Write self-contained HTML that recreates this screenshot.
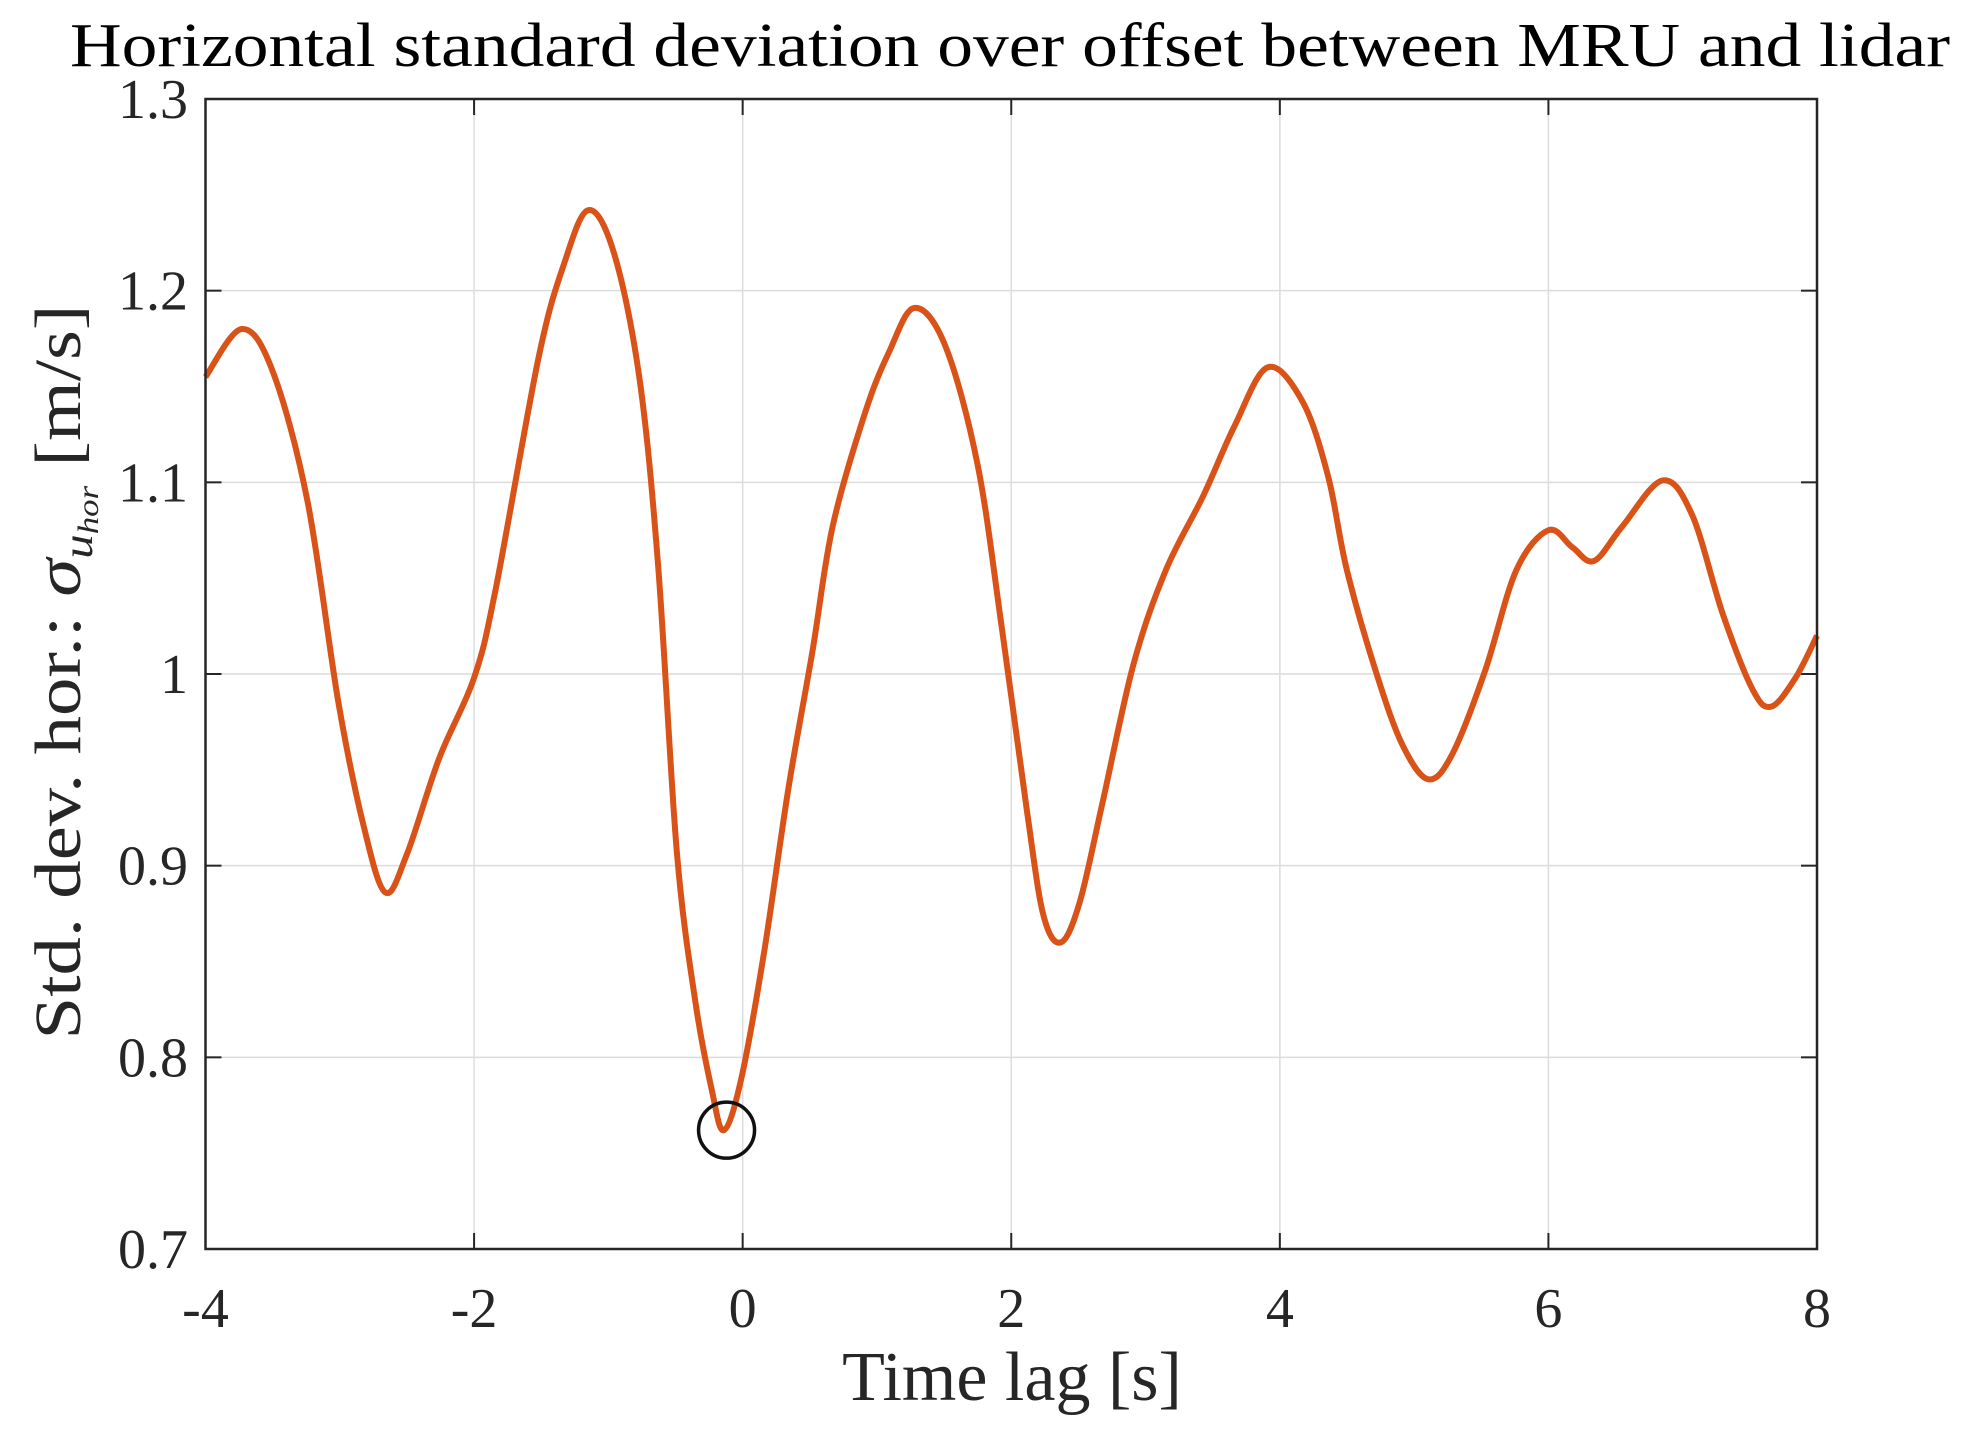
<!DOCTYPE html>
<html><head><meta charset="utf-8"><style>
html,body{margin:0;padding:0;background:#fff;}
svg{display:block;font-family:"Liberation Serif","DejaVu Serif",serif;}
</style></head><body>
<svg id="chart" width="1964" height="1440" viewBox="0 0 1964 1440" xmlns="http://www.w3.org/2000/svg">
<rect width="1964" height="1440" fill="#fff"/>
<g id="grid"></g>
<g id="ticks"></g>
<path id="series" fill="none" stroke="#D95319" stroke-width="6" stroke-linejoin="round"/>
<circle id="minmark" r="28" fill="none" stroke="#111" stroke-width="3.5"/>
<rect x="205.5" y="99" width="1611.5" height="1150" fill="none" stroke="#262626" stroke-width="2.5"/>
<text x="1010" y="66" font-size="62" text-anchor="middle" textLength="1880" lengthAdjust="spacingAndGlyphs" fill="#000">Horizontal standard deviation over offset between MRU and lidar</text>
<text x="1012" y="1400" font-size="70" text-anchor="middle" fill="#262626">Time lag [s]</text>
<text transform="translate(80,672) rotate(-90)" font-size="66" text-anchor="middle" textLength="735" lengthAdjust="spacingAndGlyphs" fill="#262626">Std. dev. hor.: <tspan font-style="italic">σ</tspan><tspan font-style="italic" font-size="42" dy="12">u</tspan><tspan font-style="italic" font-size="30" dy="6">hor</tspan><tspan dy="-18"> [m/s]</tspan></text>
</svg>
<script>
const xTicks=[-4,-2,0,2,4,6,8];
const yTicks=[0.7,0.8,0.9,1.0,1.1,1.2,1.3];
const yTickLabels=["0.7","0.8","0.9","1","1.1","1.2","1.3"];
const lagValues=[-4,-3.73,-3.5,-3.24,-3.01,-2.82,-2.66,-2.5,-2.26,-2.0,-1.84,-1.52,-1.33,-1.15,-0.96,-0.77,-0.63,-0.49,-0.35,-0.23,-0.14,-0.01,0.16,0.34,0.52,0.67,0.91,1.09,1.28,1.51,1.75,1.93,2.12,2.24,2.37,2.51,2.68,2.91,3.15,3.43,3.66,3.91,4.17,4.36,4.5,4.73,4.92,5.11,5.29,5.53,5.76,6.0,6.18,6.34,6.55,6.85,7.07,7.3,7.52,7.66,7.84,8.0];
const stdValues=[1.155,1.18,1.158,1.09,0.985,0.92,0.886,0.906,0.956,0.998,1.044,1.165,1.214,1.242,1.22,1.155,1.057,0.907,0.828,0.783,0.762,0.789,0.855,0.94,1.012,1.077,1.136,1.168,1.191,1.171,1.109,1.024,0.927,0.874,0.86,0.881,0.933,1.005,1.054,1.093,1.129,1.16,1.142,1.103,1.054,0.998,0.962,0.945,0.959,1.002,1.054,1.075,1.066,1.059,1.077,1.101,1.083,1.031,0.992,0.983,0.998,1.02];
const minLag=[-0.12];
const minStd=[0.762];
const X0=205.5,X1=1817,Y0=1249,Y1=99;
const sx=t=>X0+(t-(-4))/12*(X1-X0);
const sy=v=>Y0-(v-0.7)/0.6*(Y0-Y1);
const NS="http://www.w3.org/2000/svg";
const grid=document.getElementById('grid'),ticks=document.getElementById('ticks'),svg=document.getElementById('chart');
function mk(tag,attrs,parent){const e=document.createElementNS(NS,tag);for(const k in attrs)e.setAttribute(k,attrs[k]);parent.appendChild(e);return e;}
xTicks.forEach((t,i)=>{const x=sx(t);
 const g=mk('line',{x1:x,x2:x,y1:Y0,y2:Y1,stroke:'#dcdcdc','stroke-width':1.5},grid);
 
 
 const a=mk('line',{x1:x,x2:x,y1:Y0,y2:Y0-16,stroke:'#262626','stroke-width':2},ticks);
 
 
 const b=mk('line',{x1:x,x2:x,y1:Y1,y2:Y1+16,stroke:'#262626','stroke-width':2},ticks);
 
 
 const l=mk('text',{x:x,y:1327,'font-size':56,'text-anchor':'middle',fill:'#262626'},svg);
 l.textContent=String(t);
 
 
});
yTicks.forEach((v,i)=>{const y=sy(v);
 const g=mk('line',{x1:X0,x2:X1,y1:y,y2:y,stroke:'#dcdcdc','stroke-width':1.5},grid);
 
 
 const a=mk('line',{x1:X0,x2:X0+16,y1:y,y2:y,stroke:'#262626','stroke-width':2},ticks);
 
 
 const b=mk('line',{x1:X1,x2:X1-16,y1:y,y2:y,stroke:'#262626','stroke-width':2},ticks);
 
 
 const l=mk('text',{x:188,y:y+19,'font-size':56,'text-anchor':'end',fill:'#262626'},svg);
 l.textContent=yTickLabels[i];
 
 
});
const pts=lagValues.map((t,i)=>[sx(t),sy(stdValues[i])]);
let d='M'+pts[0][0]+','+pts[0][1];
for(let i=0;i<pts.length-1;i++){const p0=pts[Math.max(0,i-1)],p1=pts[i],p2=pts[i+1],p3=pts[Math.min(pts.length-1,i+2)];
 const c1=[p1[0]+(p2[0]-p0[0])/6,p1[1]+(p2[1]-p0[1])/6],c2=[p2[0]-(p3[0]-p1[0])/6,p2[1]-(p3[1]-p1[1])/6];
 d+=' C'+c1[0]+','+c1[1]+' '+c2[0]+','+c2[1]+' '+p2[0]+','+p2[1];}
document.getElementById('series').setAttribute('d',d);
const c=document.getElementById('minmark');c.setAttribute('cx',sx(minLag[0]));c.setAttribute('cy',sy(minStd[0]));
</script>
</body></html>
